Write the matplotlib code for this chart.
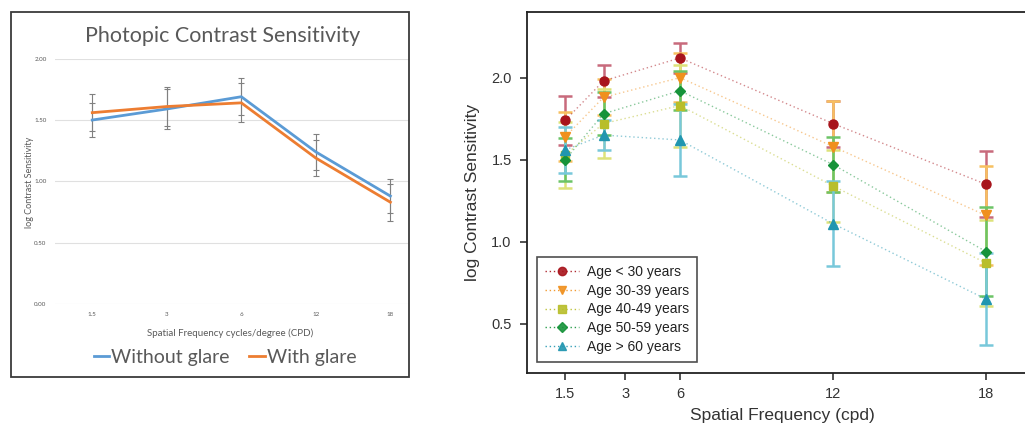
import matplotlib
matplotlib.use("Agg")
import matplotlib.pyplot as plt
from matplotlib.patches import Rectangle

# ---
# Left panel: photopic contrast sensitivity, with / without glare
left_cats = ["1.5", "3", "6", "12", "18"]
no_glare = [1.50, 1.59, 1.69, 1.24, 0.88]
no_glare_err = [0.14, 0.16, 0.15, 0.15, 0.14]
glare = [1.56, 1.61, 1.64, 1.19, 0.83]
glare_err = [0.15, 0.16, 0.16, 0.15, 0.15]

# Right panel: contrast sensitivity by age group
freqs = [1.5, 3, 6, 12, 18]
freq_ticks = [1.5, 3.85, 6, 12, 18]     # the "3" label sits a bit right of its points
freq_labels = ["1.5", "3", "6", "12", "18"]
age_labels = ["Age < 30 years", "Age 30-39 years", "Age 40-49 years",
              "Age 50-59 years", "Age > 60 years"]
age_vals = [
    [1.74, 1.98, 2.12, 1.72, 1.35],
    [1.64, 1.88, 2.00, 1.58, 1.16],
    [1.53, 1.72, 1.83, 1.34, 0.87],
    [1.50, 1.78, 1.92, 1.47, 0.94],
    [1.56, 1.65, 1.62, 1.11, 0.65],
]
age_errs = [
    [0.15, 0.10, 0.09, 0.14, 0.20],
    [0.15, 0.11, 0.15, 0.28, 0.30],
    [0.20, 0.21, 0.25, 0.22, 0.26],
    [0.13, 0.13, 0.12, 0.17, 0.27],
    [0.14, 0.09, 0.22, 0.26, 0.28],
]

# ---
W, H = 1025, 426
fig = plt.figure(figsize=(W / 100, H / 100), dpi=100)


def fbox(x0, y0, x1, y1):
    # pixel box (top-left origin) -> figure fraction [l, b, w, h]
    return [x0 / W, 1 - y1 / H, (x1 - x0) / W, (y1 - y0) / H]


# ---- left panel (Excel style) ----
fig.patches.append(Rectangle((11 / W, 1 - 377 / H), 398 / W, 365 / H,
                             transform=fig.transFigure, fill=False,
                             edgecolor="#3a3a3a", linewidth=1.3))

axl = fig.add_axes(fbox(55, 58.7, 409, 304))
xs = range(len(left_cats))
for ys, err, col, lab in [(no_glare, no_glare_err, "#5B9BD5", "Without glare"),
                          (glare, glare_err, "#ED7D31", "With glare")]:
    axl.errorbar(xs, ys, yerr=err, fmt="none", ecolor="#808080",
                 elinewidth=0.8, capsize=2, capthick=0.8, zorder=2)
    axl.plot(xs, ys, color=col, linewidth=2, label=lab, zorder=3)

axl.set_xlim(-0.5, 4.25)
axl.set_ylim(0, 2)
axl.set_yticks([0, 0.5, 1.0, 1.5, 2.0])
axl.set_yticklabels(["0.00", "0.50", "1.00", "1.50", "2.00"])
axl.set_xticks(list(xs))
axl.set_xticklabels(left_cats)
axl.grid(axis="y", color="#e0e0e0", linewidth=0.8)
axl.set_axisbelow(True)
for s in axl.spines.values():
    s.set_visible(False)
axl.tick_params(length=0, labelsize=4.5, labelcolor="#595959", pad=6)
for t in axl.get_xticklabels() + axl.get_yticklabels():
    t.set_family("Lato")

fig.text(223 / W, 1 - 36 / H, "Photopic Contrast Sensitivity", ha="center",
         va="center", fontsize=15.5, color="#595959", family="Lato")
fig.text(30 / W, 1 - 182 / H, "log Contrast Sensitivity", ha="center",
         va="center", rotation=90, fontsize=6.5, color="#595959", family="Lato")
fig.text(230 / W, 1 - 333 / H, "Spatial Frequency cycles/degree (CPD)",
         ha="center", va="center", fontsize=7, color="#595959", family="Lato")
leg1 = axl.legend(loc="center", bbox_to_anchor=(225 / W, 1 - 357 / H),
                  bbox_transform=fig.transFigure, ncol=2, frameon=False,
                  handlelength=0.8, handletextpad=0.1, columnspacing=1.0,
                  prop={"family": "Lato", "size": 14})
for t in leg1.get_texts():
    t.set_color("#595959")

# ---- right panel ----
plt.rcParams["font.family"] = ["Liberation Sans", "DejaVu Sans"]
axr = fig.add_axes(fbox(527, 12, 1037, 373))
mcols = ["#a8141c", "#f0901e", "#b8be2a", "#16933a", "#2196b0"]
ecols = ["#c86a7c", "#f7c060", "#dde27a", "#6cc466", "#78c8da"]
markers = ["o", "v", "s", "D", "^"]
msizes = [6.5, 6.5, 6, 5.5, 6.5]

for vals, errs, mc, ec, mk, ms, lab in zip(age_vals, age_errs, mcols, ecols,
                                           markers, msizes, age_labels):
    axr.errorbar(freqs, vals, yerr=errs, fmt="none", ecolor=ec,
                 elinewidth=1.8, capsize=5, capthick=1.8, zorder=2)
    axr.plot(freqs, vals, linestyle=(0, (1, 2)), color=mc, alpha=0.5,
             linewidth=1.0, zorder=3)
    axr.plot(freqs, vals, linestyle="none", marker=mk, markersize=ms,
             color=mc, zorder=4)
    # legend proxy
    axr.plot([], [], linestyle=(0, (1, 2)), color=mc, linewidth=1.0,
             alpha=0.9, marker=mk, markersize=ms - 0.5, label=lab)

axr.set_xlim(0, 20)
axr.set_ylim(0.2, 2.4)
axr.set_xticks(freq_ticks)
axr.set_xticklabels(freq_labels)
axr.set_yticks([0.5, 1.0, 1.5, 2.0])
axr.set_yticklabels(["0.5", "1.0", "1.5", "2.0"])
for s in axr.spines.values():
    s.set_linewidth(1.3)
    s.set_color("#222222")
axr.tick_params(length=5, width=1.1, labelsize=10.5, color="#222222",
                labelcolor="#333333")
axr.tick_params(axis="y", pad=6)
axr.tick_params(axis="x", pad=5)
axr.set_ylabel("log Contrast Sensitivity", fontsize=12.5, color="#333333",
               labelpad=8)
axr.set_xlabel("Spatial Frequency (cpd)", fontsize=12.5, color="#333333",
               labelpad=5)

leg2 = axr.legend(loc="lower left", bbox_to_anchor=(537 / W, 1 - 362 / H),
                  bbox_transform=fig.transFigure, fontsize=10,
                  frameon=True, fancybox=False, edgecolor="#222222",
                  handlelength=2.4, handletextpad=0.6, labelspacing=0.33,
                  borderpad=0.6, borderaxespad=0)
leg2.get_frame().set_linewidth(1.2)
for t in leg2.get_texts():
    t.set_color("#222222")

fig.savefig("out.png", dpi=100)
